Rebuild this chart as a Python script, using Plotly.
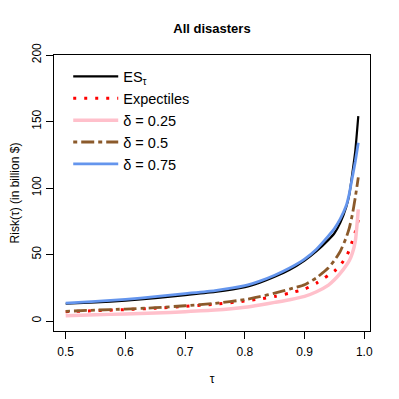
import plotly.graph_objects as go

tau = [0.5, 0.55, 0.6, 0.65, 0.7, 0.75, 0.8, 0.825, 0.85, 0.875, 0.9, 0.92, 0.94,
       0.95, 0.96, 0.97, 0.975, 0.98, 0.985, 0.99]
es_tau = [13.0, 14.0, 15.3, 17.2, 19.5, 21.8, 25.4, 28.8, 33.2, 38.5, 45.5, 52.5, 61.0,
          66.0, 74.0, 86.0, 95.0, 111.0, 128.0, 154.0]
expectiles = [7.0, 7.8, 8.6, 9.6, 11.0, 12.6, 15.0, 16.6, 18.5, 21.0, 24.0, 28.5, 34.5,
              37.5, 42.0, 48.5, 53.5, 60.0, 67.0, 76.0]
delta_025 = [4.0, 4.8, 5.2, 6.0, 7.0, 8.2, 10.3, 12.0, 14.0, 16.0, 18.5, 22.0, 27.0,
             31.0, 36.0, 42.0, 45.5, 51.0, 60.0, 84.0]
delta_05 = [7.3, 8.2, 9.0, 10.0, 11.5, 13.3, 16.1, 18.3, 21.0, 24.0, 27.3, 32.5, 40.0,
            45.5, 52.5, 63.0, 70.0, 80.0, 93.0, 108.0]
delta_075 = [13.5, 14.8, 16.3, 18.3, 20.6, 22.9, 26.6, 30.0, 34.4, 39.8, 46.5, 54.0, 64.0,
             69.5, 77.0, 87.0, 96.0, 108.0, 120.0, 134.0]

x_ticks = [0.5, 0.6, 0.7, 0.8, 0.9, 1.0]
x_tick_labels = ["0.5", "0.6", "0.7", "0.8", "0.9", "1.0"]
y_ticks = [0, 50, 100, 150, 200]
y_tick_labels = ["0", "50", "100", "150", "200"]

FONT = "Liberation Sans, Arial, Helvetica, sans-serif"
W = 391
H = 391

fig = go.Figure()
fig.add_trace(go.Scatter(x=tau, y=es_tau, mode="lines", name="ES<sub>τ</sub>",
                         line=dict(color="black", width=2.2, shape="spline", smoothing=0.5)))
fig.add_trace(go.Scatter(x=tau, y=expectiles, mode="lines", name="Expectiles",
                         line=dict(color="red", width=3, dash="3px,8px",
                                   shape="spline", smoothing=0.5)))
fig.add_trace(go.Scatter(x=tau, y=delta_025, mode="lines", name="δ = 0.25",
                         line=dict(color="#FFC0CB", width=3.5, shape="spline", smoothing=0.5)))
fig.add_trace(go.Scatter(x=tau, y=delta_05, mode="lines", name="δ = 0.5",
                         line=dict(color="#8B5A2B", width=2.8, dash="4px,4px,13px,4px",
                                   shape="spline", smoothing=0.5)))
fig.add_trace(go.Scatter(x=tau, y=delta_075, mode="lines", name="δ = 0.75",
                         line=dict(color="#6495ED", width=2.8, shape="spline", smoothing=0.5)))

fig.update_layout(
    width=W, height=H,
    margin=dict(l=46, r=29, t=47, b=68, autoexpand=False),
    paper_bgcolor="white", plot_bgcolor="white",
    font=dict(family=FONT, size=12, color="black"),
    title=dict(text="<b>All disasters</b>", x=204 / W, xanchor="center",
               y=1 - 20 / H, yanchor="middle", font=dict(size=13, family=FONT)),
    showlegend=True,
    legend=dict(x=0.045, y=0.98, xanchor="left", yanchor="top",
                bgcolor="rgba(0,0,0,0)", font=dict(size=14.5, family=FONT),
                itemwidth=45),
)
fig.update_xaxes(range=[0.4804, 1.0096], tickvals=x_ticks, ticktext=x_tick_labels,
                 showgrid=False, zeroline=False, showline=True, mirror=True,
                 linecolor="black", linewidth=1, ticks="outside", ticklen=7,
                 tickcolor="black", tickfont=dict(size=12), ticklabelstandoff=3,
                 automargin=False,
                 title=dict(text="τ", standoff=16, font=dict(size=12)))
fig.update_yaxes(range=[-7.5, 200], tickvals=y_ticks, ticktext=y_tick_labels,
                 showgrid=False, zeroline=False, showline=True, mirror=True,
                 linecolor="black", linewidth=1, ticks="outside", ticklen=7,
                 tickcolor="black", tickangle=-90, tickfont=dict(size=12),
                 automargin=False,
                 title=dict(text="Risk(τ) (in billion $)", standoff=19, font=dict(size=12)))

fig.write_html("out.html")
